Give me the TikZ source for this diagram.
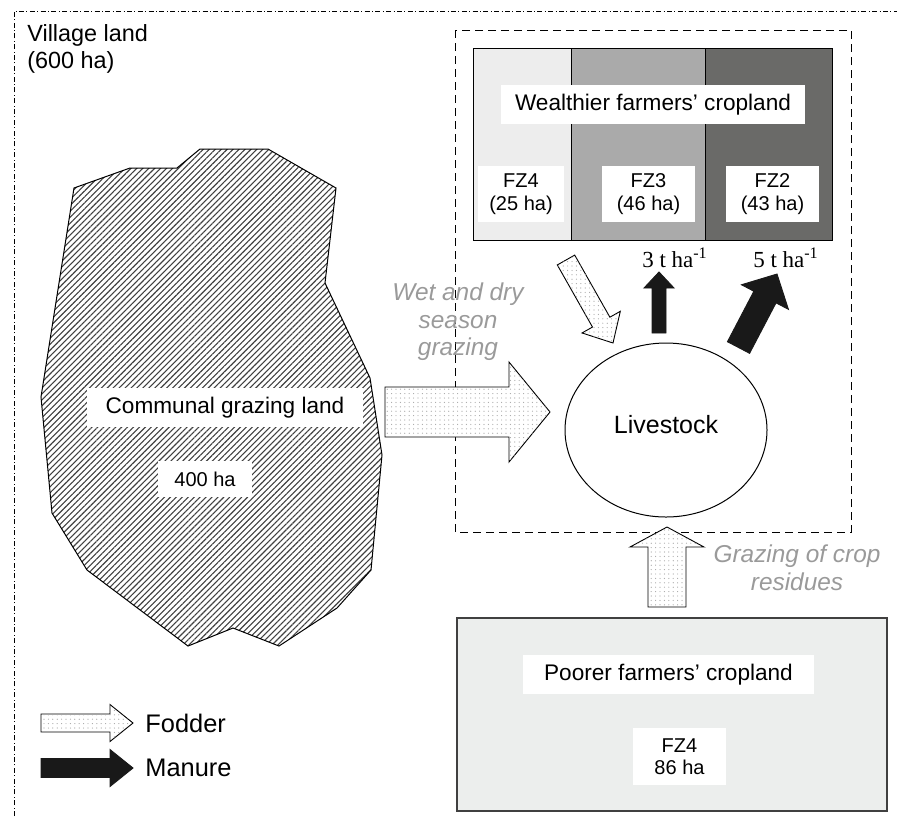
\documentclass[tikz,border=0pt]{standalone}
\usepackage{fontspec}
\setmainfont{Liberation Sans}
\newfontfamily\ratefont{Liberation Serif}
\usetikzlibrary{shapes,calc,patterns.meta,positioning}

\definecolor{fzlight}{HTML}{EDEDED}
\definecolor{fzmid}{HTML}{AAAAAA}
\definecolor{fzdark}{HTML}{6A6A68}
\definecolor{poorfill}{HTML}{ECEEED}
\definecolor{notegray}{HTML}{9A9A9A}

\tikzset{
  hatched/.style={draw=black, line width=0.5pt, pattern color=black!75, pattern={Lines[angle=45,distance=2.1pt,line width=0.55pt]}},
  fodder/.style={draw=black, line width=0.45pt, fill=white, postaction={pattern color=black!35, pattern={Dots[distance=2.2pt,radius=0.3pt]}}},
  manure/.style={draw=black!90, fill=black!90, line width=0.45pt},
  labelbox/.style={fill=white, inner sep=0pt, align=center, font=\fontsize{11.3}{13}\selectfont},
  zonebox/.style={labelbox, font=\fontsize{10}{11.2}\selectfont},
  note/.style={text=notegray, align=center, inner sep=0pt, font=\fontsize{12.2}{13.8}\selectfont\itshape},
  rate/.style={inner sep=0pt, anchor=base, font=\ratefont\fontsize{11.5}{13}\selectfont},
  keytext/.style={inner sep=0pt, font=\fontsize{12.7}{14}\selectfont}
}

% block arrow: style, tail, tip, half shaft, half head, head length
\newcommand{\blockarrow}[6]{%
  \coordinate (#2-#3-h) at ($(#3)!#6!(#2)$);
  \draw[#1] ($(#2)!#4!90:(#3)$) -- ($(#2-#3-h)!#4!-90:(#2)$) -- ($(#2-#3-h)!#5!-90:(#2)$) -- (#3)
    -- ($(#2-#3-h)!#5!90:(#2)$) -- ($(#2-#3-h)!#4!90:(#2)$) -- ($(#2)!#4!-90:(#3)$) -- cycle;
}

\begin{document}
\begin{tikzpicture}[x=0.5pt,y=-0.5pt]
\useasboundingbox (0,0) rectangle (897,816);

% village land
\draw[line width=0.5pt, dash pattern=on 2.5pt off 1.2pt on 0.5pt off 1.2pt] (14,816) -- (14,11) -- (897,11);
\node[anchor=north west, align=left, inner sep=0pt, font=\fontsize{11.7}{13.5}\selectfont] (village) at (27,24) {Village land\\(600 ha)};

% livestock area
\draw[line width=0.5pt, dash pattern=on 4pt off 2.5pt] (455,30) rectangle (851,532);

% wealthier farmers
\foreach \xa/\xb/\col in {473/571/fzlight,571/705/fzmid,705/832/fzdark}
  \draw[fill=\col, line width=0.5pt] (\xa,48) rectangle (\xb,240);
\node[labelbox, minimum width=152pt, minimum height=19.5pt] (wealthy) at (653,104.5) {Wealthier farmers' cropland};
\node[zonebox, minimum width=43pt, minimum height=28pt] (fzfour) at (521,194) {FZ4\\(25 ha)};
\node[zonebox, minimum width=46.5pt, minimum height=28pt] (fzthree) at (648.5,194) {FZ3\\(46 ha)};
\node[zonebox, minimum width=46.5pt, minimum height=28pt] (fztwo) at (772.5,194) {FZ2\\(43 ha)};

% communal grazing land
\draw[hatched] (74,188) -- (130,168) -- (177,168) -- (200,149) -- (268,149) -- (336,188) -- (325,283)
  -- (370,378) -- (382,455) -- (371,570) -- (337,608) -- (279,646) -- (233,628) -- (188,646)
  -- (87,570) -- (52,513) -- (41,397) -- cycle;
\node[labelbox, minimum width=138pt, minimum height=19.5pt] (communal) at (225,407.5) {Communal grazing land};
\node[zonebox, minimum width=47pt, minimum height=18pt] (commha) at (205,479) {400 ha};

% livestock
\node[draw, ellipse, fill=white, line width=0.5pt, minimum width=101pt, minimum height=87pt, inner sep=0pt, text depth=6pt, font=\fontsize{12.5}{14}\selectfont] (livestock) at (666,430) {Livestock};

% poorer farmers
\node[draw=black!75, fill=poorfill, line width=0.7pt, minimum width=215pt, minimum height=96.5pt, inner sep=0pt] (poorer) at (672,714.5) {};
\node[labelbox, minimum width=145.5pt, minimum height=19.5pt] (poorlabel) at (668.5,674.5) {Poorer farmers' cropland};
\node[zonebox, minimum width=46.5pt, minimum height=28.5pt] (poorzone) at (679.5,756.5) {FZ4\\86 ha};

% flows
\coordinate (grazeS) at (385,412);
\coordinate (grazeE) at (550,412);
\coordinate (cropS) at (566,260);
\coordinate (cropE) at (613,343);
\coordinate (dungAs) at (659,333);
\coordinate (dungAe) at (659,272);
\coordinate (dungBs) at (738.5,347.5);
\coordinate (dungBe) at (777,274);
\coordinate (residS) at (667,607);
\coordinate (residE) at (667,527);
\blockarrow{fodder}{grazeS}{grazeE}{12.5pt}{25pt}{20.5pt}
\blockarrow{fodder}{cropS}{cropE}{5pt}{11pt}{12pt}
\blockarrow{manure}{dungAs}{dungAe}{3.5pt}{7.5pt}{8pt}
\blockarrow{manure}{dungBs}{dungBe}{6.25pt}{13.25pt}{13pt}
\blockarrow{fodder}{residS}{residE}{9.5pt}{18.5pt}{10pt}

\node[note] (season) at (458,322) {Wet and dry\\season\\grazing};
\node[note] (residues) at (797,567.5) {Grazing of crop\\residues};
\node[rate] (rateA) at (675,267) {3 t ha\textsuperscript{-1}};
\node[rate] (rateB) at (786,267) {5 t ha\textsuperscript{-1}};

% legend
\coordinate (keyFs) at (41,723);
\coordinate (keyFe) at (133,723);
\coordinate (keyMs) at (41,768);
\coordinate (keyMe) at (133,768);
\blockarrow{fodder}{keyFs}{keyFe}{4.5pt}{9.25pt}{11.5pt}
\blockarrow{manure}{keyMs}{keyMe}{4.75pt}{9.25pt}{11.5pt}
\node[keytext, right=6pt of keyFe] (keyfodder) {Fodder};
\node[keytext, right=6pt of keyMe] (keymanure) {Manure};
\end{tikzpicture}
\end{document}
